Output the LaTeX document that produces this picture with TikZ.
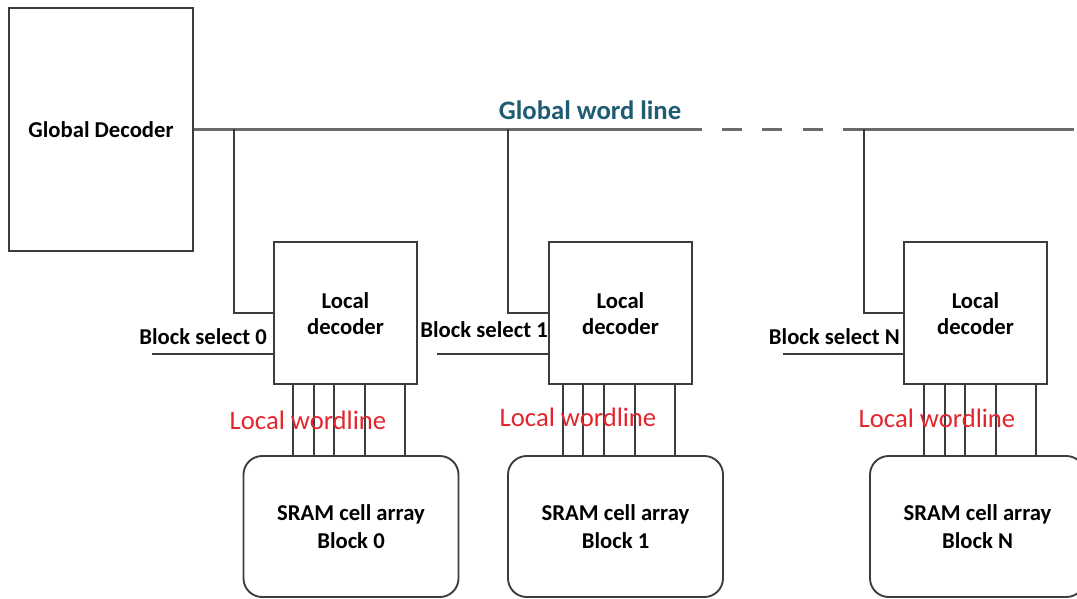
\documentclass[tikz,border=0pt]{standalone}
\usepackage{fontspec}
\setmainfont{Carlito}
\definecolor{linec}{HTML}{3C3C3C}
\definecolor{gwlc}{HTML}{6A6A6A}
\definecolor{gwtext}{HTML}{1F5C73}
\definecolor{lwred}{HTML}{E3252E}
\begin{document}
\begin{tikzpicture}[x=0.75pt,y=-0.75pt,
  boxline/.style={draw=linec,line width=1.4pt},
  wire/.style={draw=linec,line width=1.3pt},
  gwire/.style={draw=gwlc,line width=2pt},
  lbl/.style={font=\fontsize{17}{20}\selectfont\bfseries,text=black,inner sep=0pt},
  dectext/.style={font=\fontsize{17}{19.5}\selectfont\bfseries,align=center,inner sep=0pt},
  decbox/.style={boxline,minimum width={143*0.75pt},minimum height={142*0.75pt},inner sep=0pt},
  srambox/.style={boxline,rounded corners=14pt,minimum width={215*0.75pt},minimum height={141*0.75pt},inner sep=0pt,
    font=\fontsize{17}{21}\selectfont\bfseries,align=center},
  lwlabel/.style={font=\fontsize{20}{24}\selectfont,text=lwred,inner sep=0pt},
]
\clip (0,0) rectangle (1077,599);
\fill[white] (0,0) rectangle (1077,599);

% global decoder and global word line
\node[boxline,minimum width={184*0.75pt},minimum height={243*0.75pt},inner sep=0pt,
  font=\fontsize{17}{20}\selectfont\bfseries] (gd) at (101,129.5) {Global Decoder};
\node[font=\fontsize{20}{24}\selectfont\bfseries,text=gwtext,inner sep=0pt] (gwl) at (590,110) {Global word line};

\coordinate (g1) at (702,129.5);
\coordinate (g2) at (843,129.5);
\coordinate (gend) at (1074,129.5);
\draw[gwire] (gd.east) -- (g1);
\draw[gwire] (722,129.5) -- (742,129.5);
\draw[gwire] (762,129.5) -- (782,129.5);
\draw[gwire] (803,129.5) -- (823,129.5);
\draw[gwire] (g2) -- (gend);

% local decoders
\node[decbox] (d0) at (345.5,313) {};
\node[decbox] (d1) at (620.5,313) {};
\node[decbox] (dN) at (975.5,313) {};
\node[dectext] at (345.5,314) {Local\\decoder};
\node[dectext] at (620.5,314) {Local\\decoder};
\node[dectext] at (975.5,314) {Local\\decoder};

% SRAM blocks
\node[srambox] (s0) at (351,526.5) {SRAM cell array\\Block 0};
\node[srambox] (s1) at (615.5,526.5) {SRAM cell array\\Block 1};
\node[srambox] (sN) at (977.5,526.5) {SRAM cell array\\Block N};

% taps from the global word line
\coordinate (t0) at (234,129.5);
\coordinate (t1) at (508,129.5);
\coordinate (tN) at (864,129.5);
\draw[wire] (t0) |- (d0.west);
\draw[wire] (t1) |- (d1.west);
\draw[wire] (tN) |- (dN.west);

% block select inputs
\coordinate (b0) at (152,354);
\coordinate (b1) at (437,354);
\coordinate (bN) at (783,354);
\draw[wire] (b0) -- (b0 -| d0.west);
\draw[wire] (b1) -- (b1 -| d1.west);
\draw[wire] (bN) -- (bN -| dN.west);
\node[lbl,anchor=east] (bs0) at (267,337) {Block select 0};
\node[lbl,anchor=east] (bs1) at (548,330) {Block select 1};
\node[lbl,anchor=east] (bsN) at (900,337) {Block select N};

% local wordlines
\foreach \dx in {20,41,61,92,132}
  \draw[wire] ([xshift=\dx*0.75pt]d0.south west) -- ([xshift=\dx*0.75pt]d0.south west |- s0.north);
\foreach \dx in {15,35,56,87,127}
  \draw[wire] ([xshift=\dx*0.75pt]d1.south west) -- ([xshift=\dx*0.75pt]d1.south west |- s1.north);
\foreach \dx in {21,42,62,93,133}
  \draw[wire] ([xshift=\dx*0.75pt]dN.south west) -- ([xshift=\dx*0.75pt]dN.south west |- sN.north);

\node[lwlabel] (lw0) at (308,420) {Local wordline};
\node[lwlabel] (lw1) at (578,417) {Local wordline};
\node[lwlabel] (lwN) at (937,418) {Local wordline};
\end{tikzpicture}
\end{document}
